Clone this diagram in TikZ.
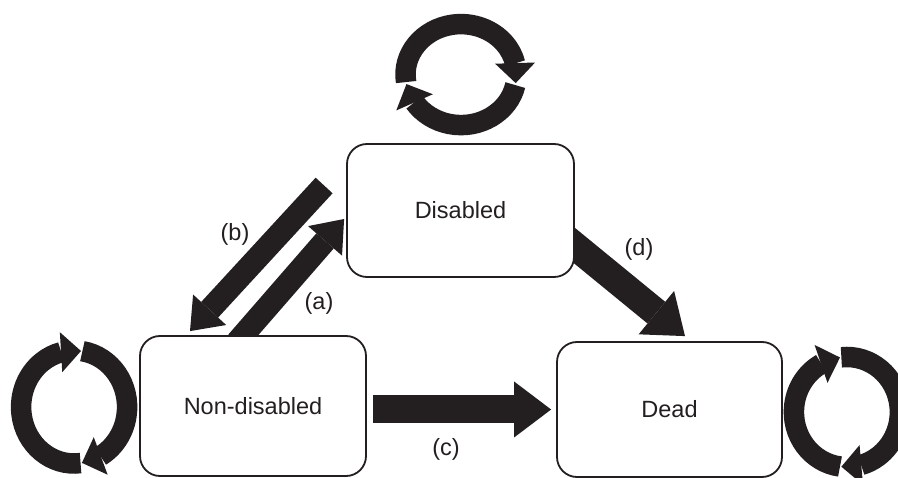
\documentclass[tikz,border=0pt]{standalone}
\usepackage{fontspec}
\setmainfont{Liberation Sans}
\usetikzlibrary{arrows.meta, bending, calc, backgrounds}
\definecolor{inkblack}{RGB}{35,31,32}

\begin{document}
\begin{tikzpicture}[x=1pt, y=-1pt,
    state/.style={draw=inkblack, line width=1.8pt, rounded corners=20pt, fill=white,
                  font=\fontsize{23.5}{28}\selectfont, text=inkblack},
    lbl/.style={font=\fontsize{23.5}{28}\selectfont, text=inkblack},
    bigarrow/.style={color=inkblack, line width=28pt,
                     -{Triangle[length=37pt, width=56pt, line width=0pt]}},
    midarrow/.style={color=inkblack, line width=23pt,
                     -{Triangle[length=29pt, width=45pt, line width=0pt]}},
    looparrow/.style={color=inkblack, line width=20.5pt,
                      -{Triangle[length=20pt, width=40pt, line width=0pt, flex]}}
]
    \useasboundingbox (0,0) rectangle (898,478);

    % States
    \node[state, minimum width=227pt, minimum height=133pt] (dis) at (460.5,210.5) {Disabled};
    \node[state, minimum width=226pt, minimum height=140pt] (nondis) at (253,406) {Non-disabled};
    \node[state, minimum width=225pt, minimum height=135pt] (dead) at (669.5,409.5) {Dead};

    % Transitions
    \begin{scope}[on background layer]
        \draw[midarrow] ($(nondis.north)+(-16,7)$) -- ($(dis.west)+(-2,8.5)$);
        \draw[midarrow] ($(dis.west)+(-22,-25)$) -- ($(nondis.north)+(-63,-4)$);
        \draw[bigarrow, shorten <=6pt, shorten >=5pt] (nondis.east |- dead.west) -- (dead.west);
        \draw[bigarrow] ($(dis.east)+(-14,24)$) -- ($(dead.north)+(15.5,-5)$);
    \end{scope}

    \node[lbl] (la) at (319,303) {(a)};
    \node[lbl] (lb) at (235,234) {(b)};
    \node[lbl] (lc) at (446,449) {(c)};
    \node[lbl] (ld) at (639,249) {(d)};

    % Staying in the same state
    \coordinate (toploop) at ($(dis.north)+(0.5,-68.5)$);
    \coordinate (leftloop) at ($(nondis.west)+(-65,1)$);
    \coordinate (rightloop) at ($(dead.east)+(64,2.5)$);

    \draw[looparrow] ($(toploop)+(171.5:55.5 and 50.5)$)
        arc[start angle=171.5, end angle=369.7, x radius=55.5, y radius=50.5];
    \draw[looparrow] ($(toploop)+(12:55.5 and 50.5)$)
        arc[start angle=12, end angle=169.2, x radius=55.5, y radius=50.5];

    \draw[looparrow] ($(leftloop)+(83:53 and 56.5)$)
        arc[start angle=83, end angle=277.5, x radius=53, y radius=56.5];
    \draw[looparrow] ($(leftloop)+(279:53 and 56.5)$)
        arc[start angle=279, end angle=441.5, x radius=53, y radius=56.5];

    \draw[looparrow] ($(rightloop)+(97.5:53 and 55)$)
        arc[start angle=97.5, end angle=262.5, x radius=53, y radius=55];
    \draw[looparrow] ($(rightloop)+(264:53 and 55)$)
        arc[start angle=264, end angle=456, x radius=53, y radius=55];
\end{tikzpicture}
\end{document}
